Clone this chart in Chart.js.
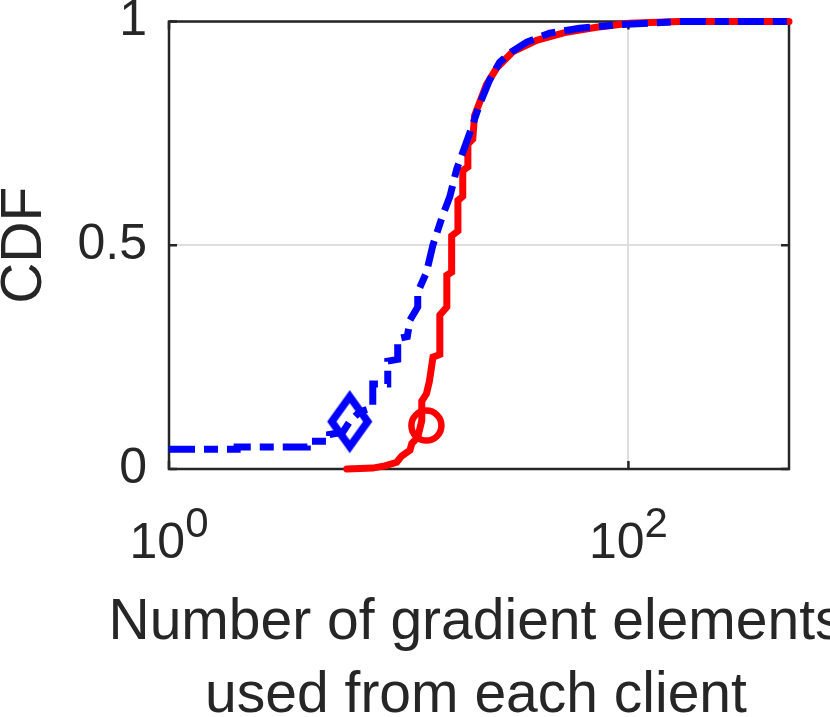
<!DOCTYPE html>
<html>
<head>
<meta charset="utf-8">
<script src="https://cdn.jsdelivr.net/npm/chart.js@4.4.0/dist/chart.umd.min.js"></script>
<style>
html,body{margin:0;padding:0;background:#fff;}
canvas{display:block;}
</style>
</head>
<body>
<canvas id="c" width="830" height="717"></canvas>
<script>
// ---- data ----
const xTickValues = [1, 100];
const yTickValues = [0, 0.5, 1];
const xTitle = ["Number of gradient elements", "used from each client"];
const yTitle = "CDF";

// red solid CDF (x = number of elements, y = CDF)
const redX = [5.94, 7.7, 8.7, 9.8, 10.3, 11.2, 11.4, 12.1, 12.6, 12.6, 13.2, 13.6, 14.1, 15.1, 15.1, 16.2, 16.2, 17.0, 17.0, 18.1, 18.1, 19.0, 19.0, 20.0, 20.0, 21.0, 21.4, 22.5, 24.1, 26.7, 31.3, 39.8, 53.7, 72.6, 101, 166, 500];
const redY = [0.0, 0.002, 0.007, 0.015, 0.029, 0.042, 0.057, 0.071, 0.108, 0.152, 0.168, 0.196, 0.25, 0.256, 0.344, 0.362, 0.433, 0.44, 0.521, 0.532, 0.60, 0.609, 0.667, 0.675, 0.726, 0.737, 0.79, 0.819, 0.859, 0.896, 0.932, 0.958, 0.976, 0.987, 0.996, 1.0, 1.0];

// blue dashed CDF
const blueX = [1.0, 1.98, 1.98, 4.0, 4.0, 5.0, 5.0, 5.7, 6.12, 6.77, 7.71, 7.71, 8.96, 8.96, 9.9, 9.9, 10.9, 11.2, 12.1, 12.1, 13.2, 14.1, 15.4, 16.7, 17.9, 19.4, 21.0, 22.5, 24.9, 27.5, 31.0, 36.1, 45.4, 61.2, 91.4, 166, 500];
const blueY = [0.044, 0.044, 0.049, 0.049, 0.062, 0.062, 0.077, 0.082, 0.106, 0.128, 0.137, 0.19, 0.19, 0.241, 0.245, 0.291, 0.296, 0.333, 0.362, 0.395, 0.439, 0.501, 0.561, 0.609, 0.671, 0.72, 0.77, 0.815, 0.87, 0.909, 0.932, 0.954, 0.974, 0.985, 0.993, 1.0, 1.0];

// markers
const redMarkerX = [13.2], redMarkerY = [0.097];
const blueMarkerX = [6.12], blueMarkerY = [0.106];

// ---- helpers ----
const zip = (xs, ys) => xs.map((x, i) => ({x: x, y: ys[i]}));
const AX = '#262626';
const FONT = "'Liberation Sans', Arial, Helvetica, sans-serif";
Chart.defaults.font.family = FONT;
Chart.defaults.color = AX;

// diamond marker image
function diamond() {
  const c = document.createElement('canvas');
  c.width = 52; c.height = 64;
  const g = c.getContext('2d');
  g.strokeStyle = '#0000ff';
  g.lineWidth = 7.5;
  g.lineJoin = 'miter';
  g.beginPath();
  g.moveTo(26, 7); g.lineTo(44, 32); g.lineTo(26, 57); g.lineTo(8, 32); g.closePath();
  g.stroke();
  return c;
}

const boxPlugin = {
  id: 'box',
  beforeDatasetsDraw(chart) {
    const {ctx, chartArea: a, scales: {x, y}} = chart;
    ctx.save();
    ctx.strokeStyle = AX;
    ctx.lineWidth = 2.5;
    ctx.strokeRect(a.left, a.top, a.right - a.left, a.bottom - a.top);
    const L = 8;
    ctx.beginPath();
    xTickValues.forEach(v => {
      const px = x.getPixelForValue(v);
      ctx.moveTo(px, a.bottom); ctx.lineTo(px, a.bottom - L);
      ctx.moveTo(px, a.top); ctx.lineTo(px, a.top + L);
    });
    yTickValues.forEach(v => {
      const py = y.getPixelForValue(v);
      ctx.moveTo(a.left, py); ctx.lineTo(a.left + L, py);
      ctx.moveTo(a.right, py); ctx.lineTo(a.right - L, py);
    });
    ctx.stroke();
    ctx.restore();
  },
  afterDraw(chart) {
    const {ctx, chartArea: a, scales: {x}} = chart;
    ctx.save();
    ctx.fillStyle = AX;
    ctx.textBaseline = 'alphabetic';
    ctx.textAlign = 'left';
    const baseFont = '50px ' + FONT, supFont = '42px ' + FONT;
    xTickValues.forEach(v => {
      const base = '10', sup = String(Math.round(Math.log10(v)));
      ctx.font = baseFont; const wb = ctx.measureText(base).width;
      ctx.font = supFont; const ws = ctx.measureText(sup).width;
      const px = x.getPixelForValue(v);
      const x0 = px - (wb + ws) / 2;
      const by = a.bottom + 89;
      ctx.font = baseFont; ctx.fillText(base, x0, by);
      ctx.font = supFont; ctx.fillText(sup, x0 + wb, by - 21);
    });
    // x axis title (two lines, centred on the plot box, may run past the canvas edge)
    ctx.font = '57px ' + FONT;
    ctx.textAlign = 'center';
    const cx = (a.left + a.right) / 2;
    xTitle.forEach((t, i) => ctx.fillText(t, cx - 3, a.bottom + 170 + i * 73));
    ctx.restore();
  }
};

new Chart(document.getElementById('c'), {
  type: 'scatter',
  data: {
    datasets: [
      {
        label: 'blue marker', data: zip(blueMarkerX, blueMarkerY), showLine: false,
        pointStyle: diamond(), pointRadius: 20, order: 0, clip: false
      },
      {
        label: 'red marker', data: zip(redMarkerX, redMarkerY), showLine: false,
        pointStyle: 'circle', pointRadius: 15, borderWidth: 6.5, borderColor: '#ff0000',
        backgroundColor: 'rgba(0,0,0,0)', order: 0, clip: false
      },
      {
        label: 'blue', data: zip(blueX, blueY), showLine: true, borderColor: '#0000ff',
        borderWidth: 7, borderDash: [26, 9, 14, 9], borderCapStyle: 'butt', borderJoinStyle: 'miter',
        pointRadius: 0, tension: 0, order: 1, clip: false
      },
      {
        label: 'red', data: zip(redX, redY), showLine: true, borderColor: '#ff0000',
        borderWidth: 7, borderCapStyle: 'round', borderJoinStyle: 'miter',
        pointRadius: 0, tension: 0, order: 2, clip: false
      }
    ]
  },
  options: {
    responsive: false,
    animation: false,
    devicePixelRatio: 1,
    layout: {padding: {top: 16, right: 41, left: 0, bottom: 0}},
    plugins: {legend: {display: false}, tooltip: {enabled: false}},
    scales: {
      x: {
        type: 'logarithmic', min: 1, max: 500,
        afterBuildTicks: s => { s.ticks = xTickValues.map(v => ({value: v})); },
        afterFit: s => { s.height = 248; s.paddingLeft = 0; s.paddingRight = 0; },
        grid: {color: '#dedede', lineWidth: 2, drawTicks: false},
        border: {display: false},
        ticks: {display: false},
        title: {display: false}
      },
      y: {
        min: 0, max: 1,
        afterBuildTicks: s => { s.ticks = yTickValues.map(v => ({value: v})); },
        afterFit: s => { s.width = 169; s.paddingTop = 0; s.paddingBottom = 0; },
        grid: {color: '#dedede', lineWidth: 2, drawTicks: false},
        border: {display: false},
        ticks: {
          color: AX, padding: 22, font: {size: 50, family: FONT},
          callback: v => String(v)
        },
        title: {
          display: true, text: yTitle, color: AX,
          font: {size: 57, family: FONT, lineHeight: 1},
          padding: {top: -3, bottom: 0}
        }
      }
    }
  },
  plugins: [boxPlugin]
});
</script>
</body>
</html>
